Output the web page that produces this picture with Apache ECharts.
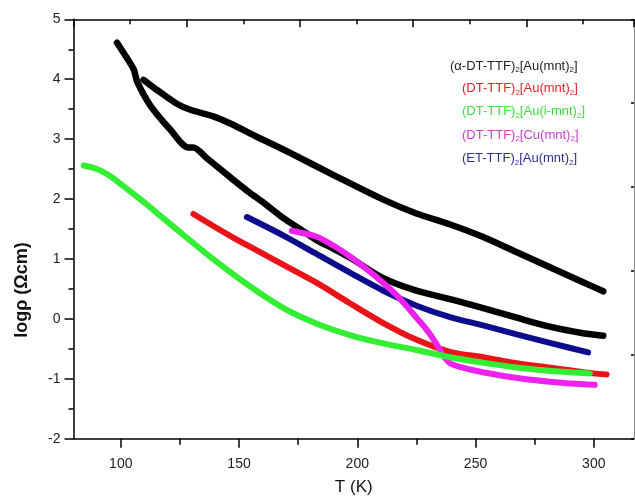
<!DOCTYPE html>
<html><head><meta charset="utf-8">
<script src="https://cdn.jsdelivr.net/npm/echarts@6/dist/echarts.min.js"></script>
<style>html,body{margin:0;padding:0;background:#fff}#c{width:635px;height:501px}</style>
</head><body><div id="c"></div>
<script>
// ---- data ----
const xMajorTicks = [100, 150, 200, 250, 300];
const xMinorTicks = [125, 175, 225, 275];
const seriesNames = [
  '(α-DT-TTF)2[Au(mnt)2]',
  '(DT-TTF)2[Au(mnt)2]',
  '(DT-TTF)2[Au(i-mnt)2]',
  '(DT-TTF)2[Cu(mnt)2]',
  '(ET-TTF)2[Au(mnt)2]'
];
const blackUpperT = [109.6,115.3,123.7,129.4,139.1,146.3,157.5,171.6,190,211,225,239,253,267,281,295,304];
const blackUpperV = [3.99,3.82,3.59,3.49,3.38,3.26,3.04,2.77,2.40,1.99,1.76,1.58,1.37,1.12,0.87,0.62,0.46];
const blackLowerT = [98.4,102,105.5,107,112.5,120.9,128.6,130.6,136.4,147.6,154,161,168.8,175.8,183,190,197,211,225,239.2,253.2,267.4,281.4,295.5,304];
const blackLowerV = [4.61,4.39,4.16,3.95,3.56,3.16,2.86,2.86,2.68,2.32,2.12,1.92,1.68,1.50,1.31,1.17,1.02,0.68,0.47,0.33,0.18,0.02,-0.13,-0.24,-0.28];
const redT = [130.7,140,147,154.8,168.8,182.9,196.9,211,225.1,239.2,253.2,267.4,281,292,299.7,305.4];
const redV = [1.75,1.53,1.37,1.20,0.90,0.60,0.26,-0.07,-0.35,-0.55,-0.64,-0.74,-0.81,-0.87,-0.91,-0.93];
const greenT = [84.3,90,95.6,101,106.8,112.5,116.7,126.5,140.6,154.7,168.8,182.9,196.9,211,225.1,239.2,253,267.4,280,290,298.3];
const greenV = [2.56,2.50,2.38,2.22,2.04,1.86,1.72,1.40,0.95,0.54,0.18,-0.08,-0.27,-0.41,-0.52,-0.64,-0.73,-0.81,-0.86,-0.89,-0.91];
const magentaT = [172.3,182.9,190,196.9,204,211,216,220.9,225,229.3,232.5,235,237,239.2,243.4,250.5,260,270,281.4,290,300.4];
const magentaV = [1.47,1.37,1.22,1.04,0.83,0.60,0.42,0.21,0.02,-0.18,-0.36,-0.52,-0.65,-0.74,-0.80,-0.87,-0.94,-1.00,-1.05,-1.08,-1.10];
const blueT = [153.3,168.8,182.9,196.9,211,225.1,239.2,253.2,267.4,281.4,297.6];
const blueV = [1.70,1.39,1.08,0.77,0.47,0.22,0.03,-0.11,-0.26,-0.40,-0.56];

// ---- chart ----
const zip = (a, b) => a.map((t, i) => [t, b[i]]);
const FONT = 'Liberation Sans, Arial, sans-serif';
const legendColors = ['#222222', '#e02424', '#40dd40', '#cc40cc', '#30309a'];
const fmt = n => n.replace(/\)2/g, '){s|2}');
const legendText = {
  fontFamily: FONT, fontSize: 13, lineHeight: 16,
  rich: { s: { fontFamily: FONT, fontSize: 8, lineHeight: 16, verticalAlign: 'bottom', padding: [6, 0, 0, 0] } }
};
function line(name, t, v, color, w) {
  return {
    type: 'line', name: name, data: zip(t, v), showSymbol: false, symbol: 'none',
    smooth: 0.3, xAxisIndex: 0, yAxisIndex: 0,
    lineStyle: { color: color, width: w, cap: 'round', join: 'round' },
    itemStyle: { color: color }, silent: true, animation: false
  };
}
const gridPos = { left: 73.5, right: 1, top: 19.3, bottom: 62.3, outerBoundsMode: 'none' };
const option = {
  backgroundColor: '#ffffff',
  animation: false,
  grid: [Object.assign({}, gridPos), Object.assign({}, gridPos)],
  legend: [
    { orient: 'vertical', left: 440, top: 53, icon: 'none', itemWidth: 0, itemHeight: 16, itemGap: 7.3,
      selectedMode: false, formatter: fmt, textStyle: legendText,
      data: [{ name: seriesNames[0], textStyle: { color: legendColors[0] } }] },
    { orient: 'vertical', left: 452, top: 75.5, icon: 'none', itemWidth: 0, itemHeight: 16, itemGap: 7.3,
      selectedMode: false, formatter: fmt, textStyle: legendText,
      data: [1, 2, 3, 4].map(i => ({ name: seriesNames[i], textStyle: { color: legendColors[i] } })) }
  ],
  xAxis: [
    { type: 'value', gridIndex: 0, position: 'bottom', min: 80, max: 317,
      name: 'T (K)', nameLocation: 'middle', nameGap: 40,
      nameTextStyle: { fontFamily: FONT, fontSize: 17, color: '#111' },
      axisLine: { show: true, onZero: false, lineStyle: { color: '#000', width: 1.5 } },
      axisTick: { show: true, inside: false, length: 9, customValues: xMajorTicks, lineStyle: { color: '#000', width: 1.5 } },
      axisLabel: { customValues: xMajorTicks, margin: 18, fontFamily: FONT, fontSize: 14, color: '#222' },
      splitLine: { show: false } },
    { type: 'value', gridIndex: 0, position: 'top', min: 0, max: 4.95, interval: 1,
      axisLine: { show: true, onZero: false, lineStyle: { color: '#000', width: 1.5 } },
      axisTick: { show: true, inside: true, length: 8, lineStyle: { color: '#000', width: 1.5 } },
      minorTick: { show: true, splitNumber: 2, length: 5, lineStyle: { color: '#000', width: 1.5 } },
      axisLabel: { show: false }, splitLine: { show: false }, minorSplitLine: { show: false } },
    { type: 'value', gridIndex: 1, position: 'bottom', min: 80, max: 317,
      axisLine: { show: false, onZero: false },
      axisTick: { show: true, inside: false, length: 6, customValues: xMinorTicks, lineStyle: { color: '#000', width: 1.5 } },
      axisLabel: { show: false }, splitLine: { show: false } }
  ],
  yAxis: [
    { type: 'value', gridIndex: 0, position: 'left', min: -2, max: 5, interval: 1,
      axisLine: { show: true, onZero: false, lineStyle: { color: '#000', width: 1.5 } },
      axisTick: { show: true, inside: false, length: 9, lineStyle: { color: '#000', width: 1.5 } },
      minorTick: { show: true, splitNumber: 2, length: 5, lineStyle: { color: '#000', width: 1.5 } },
      axisLabel: { margin: 13, fontFamily: FONT, fontSize: 14, color: '#222' },
      splitLine: { show: false }, minorSplitLine: { show: false } },
    { type: 'value', gridIndex: 0, position: 'right', min: 0, max: 5, interval: 1,
      axisLine: { show: true, onZero: false, lineStyle: { color: '#888', width: 1 } },
      axisTick: { show: true, inside: true, length: 3, lineStyle: { color: '#000', width: 1.5 } },
      axisLabel: { show: false }, splitLine: { show: false } },
    { type: 'value', gridIndex: 1, min: -2, max: 5, show: false }
  ],
  graphic: [
    { type: 'text', x: 22, y: 290, rotation: Math.PI / 2,
      style: { text: 'logρ (Ωcm)', font: 'bold 18px Liberation Sans, Arial, sans-serif', fill: '#111',
               textAlign: 'center', textVerticalAlign: 'middle' } }
  ],
  series: [
    line(seriesNames[0], blackUpperT, blackUpperV, '#000000', 6.5),
    line(seriesNames[0], blackLowerT, blackLowerV, '#000000', 6.5),
    line(seriesNames[1], redT, redV, '#e8141a', 6),
    line(seriesNames[4], blueT, blueV, '#0c0c8c', 6),
    line(seriesNames[3], magentaT, magentaV, '#ee22ee', 6),
    line(seriesNames[2], greenT, greenV, '#33ee33', 6)
  ]
};
const chart = echarts.init(document.getElementById('c'), null, { renderer: 'canvas' });
chart.setOption(option);
</script>
</body></html>
